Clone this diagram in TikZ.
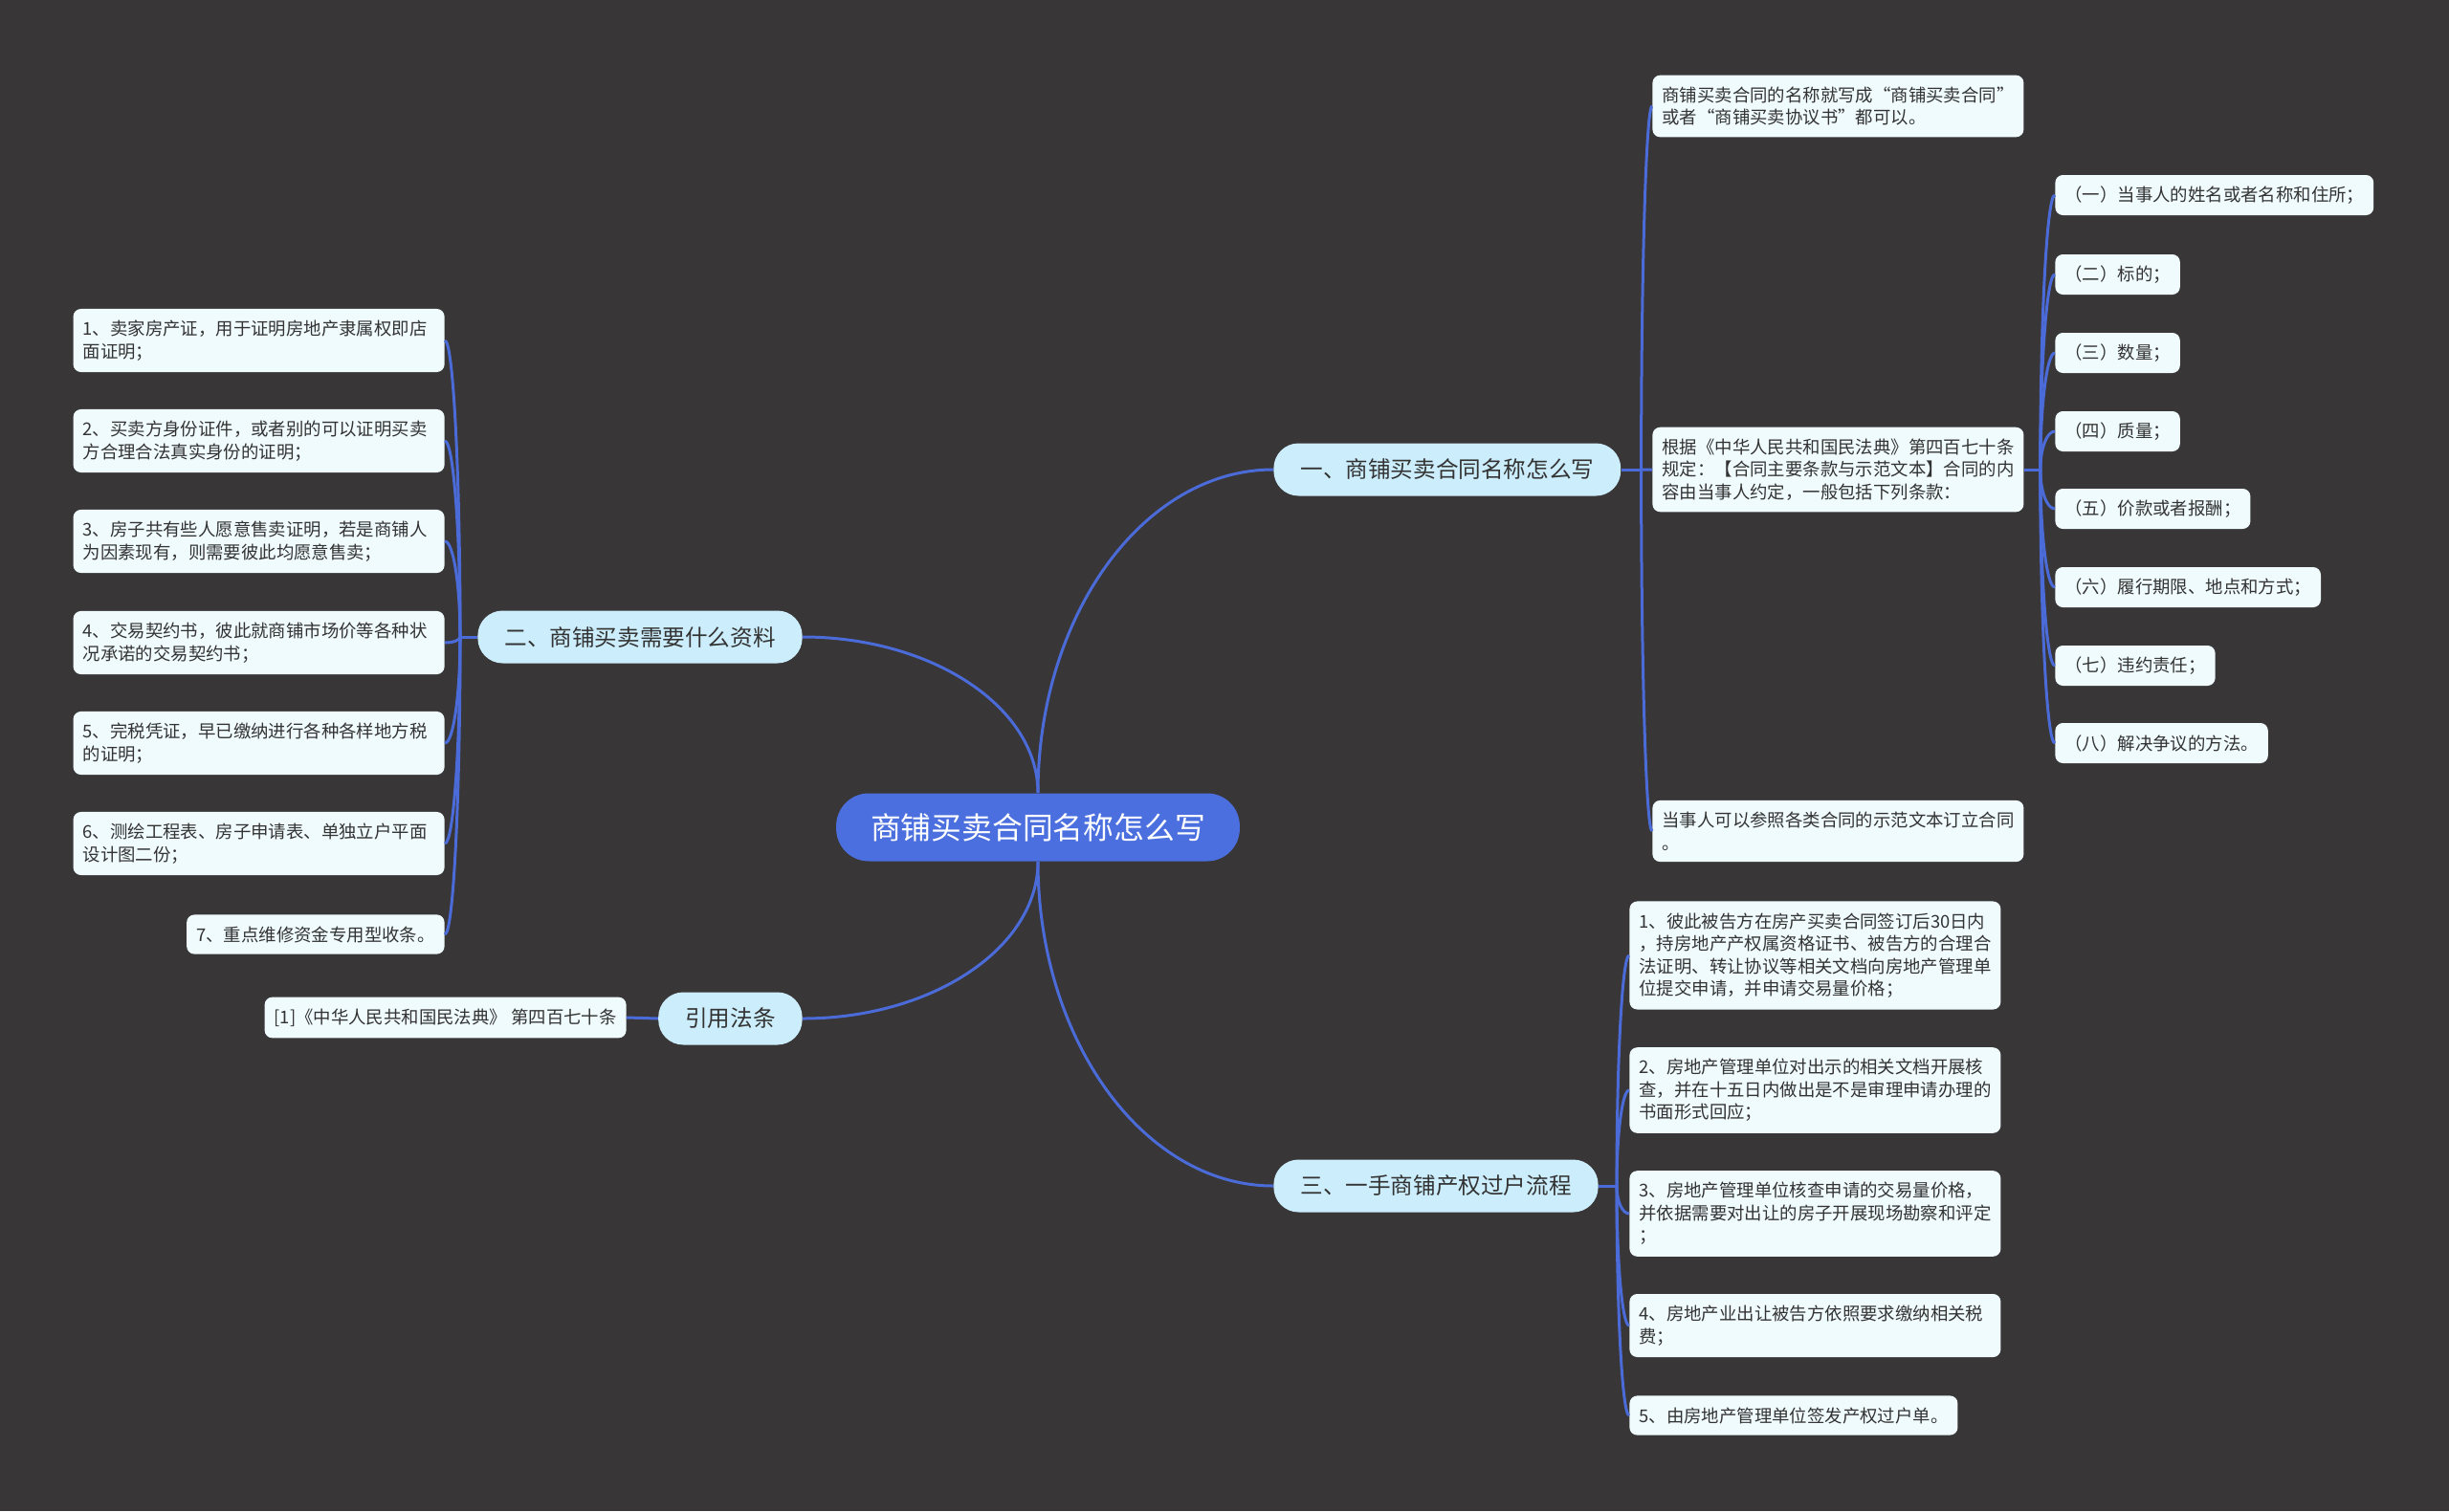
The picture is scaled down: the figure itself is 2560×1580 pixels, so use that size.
\documentclass[tikz,border=0pt]{standalone}
\usepackage{fontspec}
\usepackage{xcolor}
\usepackage{tikz}
\usetikzlibrary{calc}
\newfontfamily\cjk{Noto Sans CJK SC}
\definecolor{MapBack} {HTML}{383637}
\definecolor{MapBlue} {HTML}{4B6FDE}
\definecolor{MapLine} {HTML}{4A6BD8}
\definecolor{MapTopic}{HTML}{CCEEFC}
\definecolor{MapLeaf} {HTML}{F0FBFE}
\definecolor{MapText} {HTML}{333333}
\tikzset{
  link/.style={draw=MapLine, line width=1.5pt},
  root/.style={rectangle, rounded corners=17pt, fill=MapBlue, text=white,
    font=\cjk\fontsize{15.9}{18}\selectfont,
    minimum height=35.5pt, inner xsep=18pt, inner ysep=0pt},
  topic/.style={rectangle, rounded corners=13pt, fill=MapTopic, text=MapText,
    font=\cjk\fontsize{11.8}{14}\selectfont,
    minimum height=27.5pt, inner xsep=14pt, inner ysep=0pt},
  leaf/.style={rectangle, rounded corners=4pt, fill=MapLeaf, text=MapText,
    font=\cjk\fontsize{9.2}{11.75}\selectfont,
    inner xsep=5pt, inner ysep=6pt, align=left},
  wide/.style={leaf, text width=184pt},
  item/.style={leaf, inner ysep=0pt, minimum height=21pt}
}
% curved connector, vertical first then horizontal
\newcommand{\bough}[2]{%
  \draw[link] (#1) .. controls ($(#1)!0.55!(#1 |- #2)$)
    and ($(#2)!0.55!(#1 |- #2)$) .. (#2);}

\begin{document}
\begin{tikzpicture}[x=0.5pt, y=-0.5pt]
  \fill[MapBack] (0,0) rectangle (2560,1580);
  \useasboundingbox (0,0) rectangle (2560,1580);
  % centre and main topics
  \node[root] (c) at (1085,865) {商铺买卖合同名称怎么写};
  \node[topic, anchor=west] (b1) at (1331,491) {一、商铺买卖合同名称怎么写};
  \node[topic, anchor=east] (b2) at (839,666)  {二、商铺买卖需要什么资料};
  \node[topic, anchor=east] (law) at (839,1065) {引用法条};
  \node[topic, anchor=west] (b3) at (1331,1240) {三、一手商铺产权过户流程};
  % left: documents
  \node[wide, anchor=east] (l1) at (465,356)
    {1、卖家房产证，用于证明房地产隶属权即店\\面证明；};
  \node[wide, anchor=east] (l2) at (465,461)
    {2、买卖方身份证件，或者别的可以证明买卖\\方合理合法真实身份的证明；};
  \node[wide, anchor=east] (l3) at (465,566)
    {3、房子共有些人愿意售卖证明，若是商铺人\\为因素现有，则需要彼此均愿意售卖；};
  \node[wide, anchor=east] (l4) at (465,672)
    {4、交易契约书，彼此就商铺市场价等各种状\\况承诺的交易契约书；};
  \node[wide, anchor=east] (l5) at (465,777)
    {5、完税凭证，早已缴纳进行各种各样地方税\\的证明；};
  \node[wide, anchor=east] (l6) at (465,882)
    {6、测绘工程表、房子申请表、单独立户平面\\设计图二份；};
  \node[leaf, anchor=east] (l7) at (465,977) {7、重点维修资金专用型收条。};
  % law reference
  \node[leaf, anchor=east] (ref) at (655,1064)
    {[1]《中华人民共和国民法典》 第四百七十条};
  % right top: contract name
  \node[wide, anchor=west] (r1) at (1727,111)
    {商铺买卖合同的名称就写成“商铺买卖合同”\\或者“商铺买卖协议书”都可以。};
  \node[wide, anchor=west] (r2) at (1727,491)
    {根据《中华人民共和国民法典》第四百七十条\\规定：【合同主要条款与示范文本】合同的内\\容由当事人约定，一般包括下列条款：};
  \node[wide, anchor=west] (r3) at (1727,869)
    {当事人可以参照各类合同的示范文本订立合同\\。};
  \node[item, anchor=west] (t1) at (2148,204) {（一）当事人的姓名或者名称和住所；};
  \node[item, anchor=west] (t2) at (2148,287) {（二）标的；};
  \node[item, anchor=west] (t3) at (2148,369) {（三）数量；};
  \node[item, anchor=west] (t4) at (2148,451) {（四）质量；};
  \node[item, anchor=west] (t5) at (2148,532) {（五）价款或者报酬；};
  \node[item, anchor=west] (t6) at (2148,614) {（六）履行期限、地点和方式；};
  \node[item, anchor=west] (t7) at (2148,696) {（七）违约责任；};
  \node[item, anchor=west] (t8) at (2148,777) {（八）解决争议的方法。};
  % right bottom: transfer steps
  \node[wide, anchor=west] (s1) at (1703,999)
    {1、彼此被告方在房产买卖合同签订后30日内\\，持房地产产权属资格证书、被告方的合理合\\法证明、转让协议等相关文档向房地产管理单\\位提交申请，并申请交易量价格；};
  \node[wide, anchor=west] (s2) at (1703,1140)
    {2、房地产管理单位对出示的相关文档开展核\\查，并在十五日内做出是不是审理申请办理的\\书面形式回应；};
  \node[wide, anchor=west] (s3) at (1703,1269)
    {3、房地产管理单位核查申请的交易量价格，\\并依据需要对出让的房子开展现场勘察和评定\\；};
  \node[wide, anchor=west] (s4) at (1703,1386)
    {4、房地产业出让被告方依照要求缴纳相关税\\费；};
  \node[leaf, anchor=west] (s5) at (1703,1480) {5、由房地产管理单位签发产权过户单。};
  % junctions
  \coordinate (j2) at ($(b2.west)+(-18,0)$);
  \coordinate (j1) at ($(b1.east)+(21,0)$);
  \coordinate (jt) at ($(r2.east)+(17,0)$);
  \coordinate (j3) at ($(b3.east)+(19,0)$);
  % connectors
  \bough{c.north}{b1.west}
  \bough{c.north}{b2.east}
  \bough{c.south}{law.east}
  \bough{c.south}{b3.west}
  \draw[link] (law.west) -- (ref.east);
  \draw[link] (b2.west) -- (j2);
  \foreach \k in {1,...,7} {\bough{j2}{l\k.east}}
  \draw[link] (b1.east) -- (j1);
  \foreach \k in {1,2,3} {\bough{j1}{r\k.west}}
  \draw[link] (r2.east) -- (jt);
  \foreach \k in {1,...,8} {\bough{jt}{t\k.west}}
  \draw[link] (b3.east) -- (j3);
  \foreach \k in {1,...,5} {\bough{j3}{s\k.west}}
\end{tikzpicture}
\end{document}
